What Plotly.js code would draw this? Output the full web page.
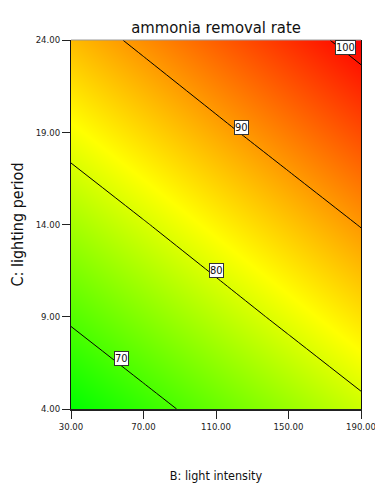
<!DOCTYPE html>
<html>
<head>
<meta charset="utf-8">
<script src="https://cdn.plot.ly/plotly-3.0.1.min.js"></script>
<style>
  html, body { margin: 0; padding: 0; background: #ffffff; }
  #chart { width: 375px; height: 487px; }
</style>
</head>
<body>
<div id="chart"></div>
<script>
// Response surface: ammonia removal rate over light intensity (B) and lighting period (C)
const lightIntensity = [30, 70, 110, 150, 190];
const lightingPeriod = [4, 9, 14, 19, 24];
const removalRate = [
  [64.9, 68.4, 71.9, 75.4, 78.9],
  [70.6, 74.1, 77.6, 81.1, 84.6],
  [76.2, 79.7, 83.2, 86.7, 90.2],
  [81.9, 85.4, 88.9, 92.4, 95.9],
  [87.5, 91.0, 94.5, 98.0, 101.5]
];
const contourLevels = [70, 80, 90, 100];
const xTicks = [30, 70, 110, 150, 190];
const yTicks = [4, 9, 14, 19, 24];

// Where each contour label box sits along its line
const labelText = ['70', '80', '90', '100'];
const labelX = [57.6, 110, 123.8, 181.7];
const labelY = [6.73, 11.5, 19.28, 23.62];

const narrow = 'DejaVu Sans Condensed, Liberation Sans Narrow, sans-serif';
const flatRate = removalRate.flat();
const zLow = Math.min(...flatRate);
const zHigh = Math.max(...flatRate);

const trace = {
  type: 'contour',
  x: lightIntensity,
  y: lightingPeriod,
  z: removalRate,
  zauto: false,
  zmin: zLow,
  zmax: zHigh,
  colorscale: [[0, 'rgb(0,255,0)'], [0.48, 'rgb(255,255,0)'], [1, 'rgb(255,0,0)']],
  showscale: false,
  contours: {
    coloring: 'heatmap',
    start: contourLevels[0],
    end: contourLevels[contourLevels.length - 1],
    size: contourLevels[1] - contourLevels[0],
    showlabels: false
  },
  line: { color: '#000000', width: 1, smoothing: 0 },
  hoverinfo: 'skip'
};

const annotations = labelText.map((t, i) => ({
  x: labelX[i], y: labelY[i], xref: 'x', yref: 'y',
  text: t, showarrow: false,
  bgcolor: '#ffffff', bordercolor: '#333333', borderwidth: 1, borderpad: 0,
  font: { family: narrow, size: 11, color: '#111111' }
}));

const layout = {
  width: 375, height: 487,
  margin: { l: 71, r: 14, t: 40, b: 78 },
  paper_bgcolor: '#ffffff', plot_bgcolor: '#ffffff',
  title: {
    text: 'ammonia removal rate',
    font: { family: narrow, size: 16.5, color: '#111111' },
    x: 0.5, xref: 'paper', y: 1 - 27 / 487, yref: 'container', yanchor: 'middle'
  },
  xaxis: {
    range: [30, 190], tickvals: xTicks, tickformat: '.2f',
    ticks: 'outside', ticklen: 8, tickwidth: 1, tickcolor: '#222222',
    ticklabeloverflow: 'allow',
    showline: true, linecolor: '#222222', linewidth: 2, mirror: false,
    showgrid: false, zeroline: false,
    tickfont: { family: narrow, size: 9.5, color: '#222222' },
    title: { text: 'B: light intensity', font: { family: narrow, size: 12.5, color: '#111111' }, standoff: 40 }
  },
  yaxis: {
    range: [4, 24], tickvals: yTicks, tickformat: '.2f',
    ticks: 'outside', ticklen: 8, tickwidth: 1, tickcolor: '#222222',
    ticklabeloverflow: 'allow',
    showline: true, linecolor: '#111111', linewidth: 1, mirror: true,
    showgrid: false, zeroline: false,
    tickfont: { family: narrow, size: 9.5, color: '#222222' },
    title: { text: 'C: lighting period', font: { family: narrow, size: 16, color: '#111111' }, standoff: 8 }
  },
  shapes: [{
    type: 'line', xref: 'paper', yref: 'paper', x0: 0, x1: 1, y0: 1, y1: 1,
    line: { color: '#9a9a9a', width: 1 }
  }],
  annotations: annotations,
  showlegend: false
};

Plotly.newPlot('chart', [trace], layout, { displayModeBar: false, staticPlot: true });
</script>
</body>
</html>
